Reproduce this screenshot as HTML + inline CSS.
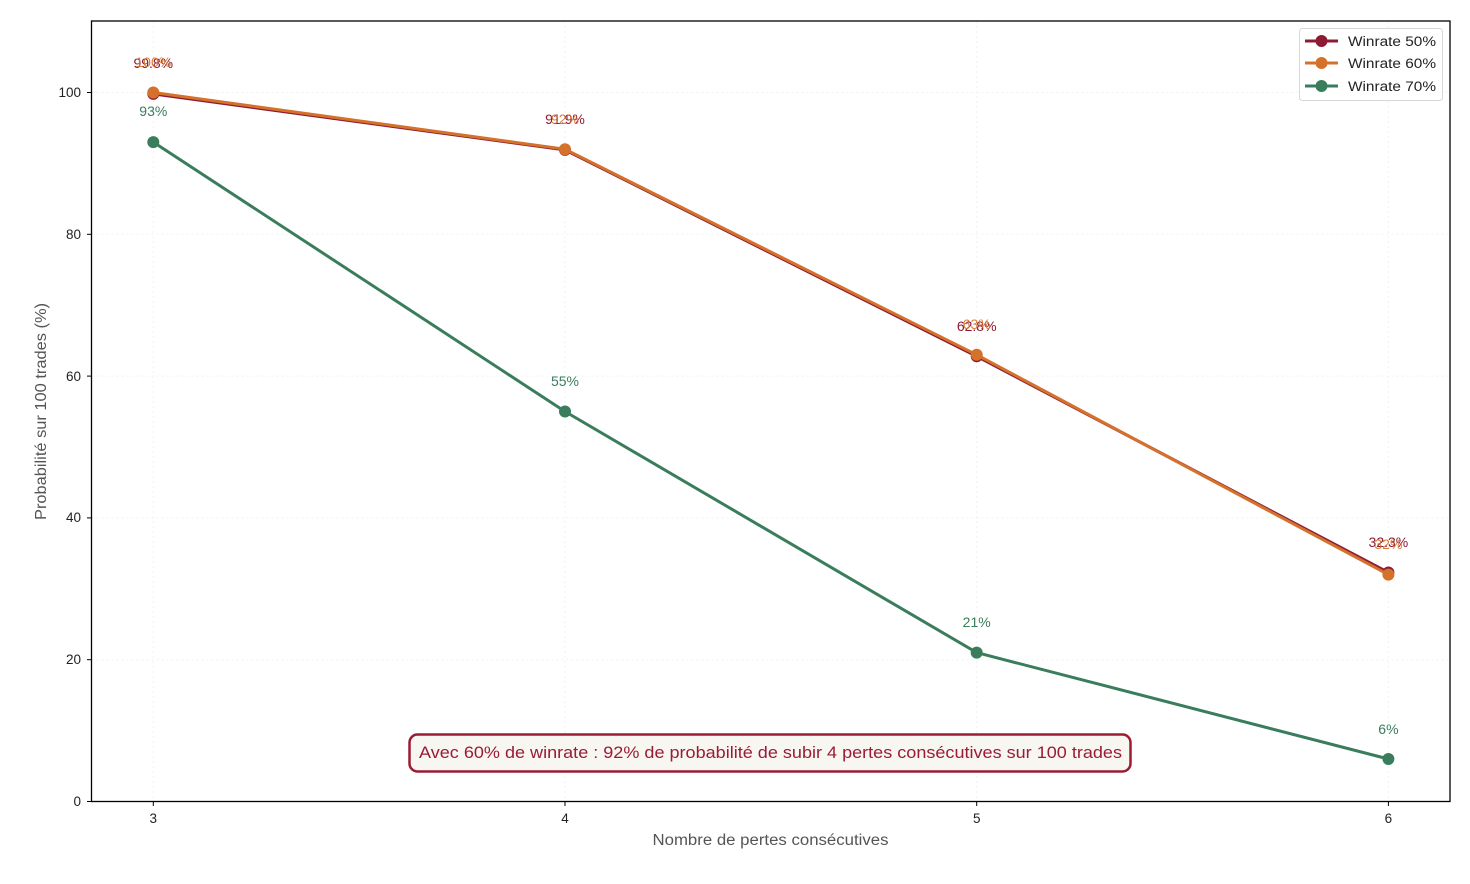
<!DOCTYPE html>
<html>
<head>
<meta charset="utf-8">
<style>
html,body{margin:0;padding:0;background:#fff;}
svg{display:block;font-family:"Liberation Sans",sans-serif;}
</style>
</head>
<body>
<svg width="1470" height="884" viewBox="0 0 1470 884" xmlns="http://www.w3.org/2000/svg">
<rect width="1470" height="884" fill="#fff"/>
<!-- grid -->
<g stroke="#f1f1f1" stroke-width="1" stroke-dasharray="2,3">
<line x1="153.3" y1="21" x2="153.3" y2="801.5"/>
<line x1="565" y1="21" x2="565" y2="801.5"/>
<line x1="976.7" y1="21" x2="976.7" y2="801.5"/>
<line x1="1388.4" y1="21" x2="1388.4" y2="801.5"/>
<line x1="91.5" y1="659.7" x2="1450" y2="659.7"/>
<line x1="91.5" y1="517.9" x2="1450" y2="517.9"/>
<line x1="91.5" y1="376.1" x2="1450" y2="376.1"/>
<line x1="91.5" y1="234.3" x2="1450" y2="234.3"/>
<line x1="91.5" y1="92.5" x2="1450" y2="92.5"/>
</g>
<!-- axes frame -->
<rect x="91.5" y="21" width="1358.5" height="780.5" fill="none" stroke="#000" stroke-width="1.3"/>
<!-- ticks -->
<g stroke="#000" stroke-width="1">
<line x1="153.3" y1="801.5" x2="153.3" y2="806"/>
<line x1="565" y1="801.5" x2="565" y2="806"/>
<line x1="976.7" y1="801.5" x2="976.7" y2="806"/>
<line x1="1388.4" y1="801.5" x2="1388.4" y2="806"/>
<line x1="87" y1="801.5" x2="91.5" y2="801.5"/>
<line x1="87" y1="659.7" x2="91.5" y2="659.7"/>
<line x1="87" y1="517.9" x2="91.5" y2="517.9"/>
<line x1="87" y1="376.1" x2="91.5" y2="376.1"/>
<line x1="87" y1="234.3" x2="91.5" y2="234.3"/>
<line x1="87" y1="92.5" x2="91.5" y2="92.5"/>
</g>
<g font-size="13.5" fill="#222" text-anchor="end">
<text x="81" y="806">0</text>
<text x="81" y="664">20</text>
<text x="81" y="522">40</text>
<text x="81" y="381">60</text>
<text x="81" y="239">80</text>
<text x="81" y="97">100</text>
</g>
<g font-size="13.5" fill="#222" text-anchor="middle">
<text x="153.3" y="823">3</text>
<text x="565" y="823">4</text>
<text x="976.7" y="823">5</text>
<text x="1388.4" y="823">6</text>
</g>
<text x="652.5" y="845" font-size="15.5" fill="#555" textLength="236" lengthAdjust="spacingAndGlyphs">Nombre de pertes consécutives</text>
<text transform="translate(46,520) rotate(-90)" font-size="15.5" fill="#555" textLength="217" lengthAdjust="spacingAndGlyphs">Probabilité sur 100 trades (%)</text>

<!-- series 50% -->
<polyline points="153.3,93.9 565,149.9 976.7,356.3 1388.4,572.5" fill="none" stroke="#8E1B34" stroke-width="3" stroke-linejoin="round"/>
<g fill="#8E1B34">
<circle cx="153.3" cy="93.9" r="6"/><circle cx="565" cy="149.9" r="6"/><circle cx="976.7" cy="356.3" r="6"/><circle cx="1388.4" cy="572.5" r="6"/>
</g>
<!-- series 60% -->
<polyline points="153.3,92.5 565,149.2 976.7,354.8 1388.4,574.6" fill="none" stroke="#D4712B" stroke-width="3" stroke-linejoin="round"/>
<g fill="#D4712B">
<circle cx="153.3" cy="92.5" r="6"/><circle cx="565" cy="149.2" r="6"/><circle cx="976.7" cy="354.8" r="6"/><circle cx="1388.4" cy="574.6" r="6"/>
</g>
<!-- series 70% -->
<polyline points="153.3,142.1 565,411.5 976.7,652.6 1388.4,759" fill="none" stroke="#3A7D5C" stroke-width="3" stroke-linejoin="round"/>
<g fill="#3A7D5C">
<circle cx="153.3" cy="142.1" r="6"/><circle cx="565" cy="411.5" r="6"/><circle cx="976.7" cy="652.6" r="6"/><circle cx="1388.4" cy="759" r="6"/>
</g>

<!-- data labels -->
<g font-size="14" text-anchor="middle">
<g fill="#8E1B34">
<text x="153.3" y="68">99.8%</text>
<text x="565" y="124">91.9%</text>
<text x="976.7" y="331">62.8%</text>
<text x="1388.4" y="547">32.3%</text>
</g>
<g fill="#D4712B" fill-opacity="0.9">
<text x="153.3" y="67">100%</text>
<text x="565" y="124">92%</text>
<text x="976.7" y="329">63%</text>
<text x="1388.4" y="549">32%</text>
</g>
<g fill="#3A7D5C">
<text x="153.3" y="116">93%</text>
<text x="565" y="386">55%</text>
<text x="976.7" y="627">21%</text>
<text x="1388.4" y="734">6%</text>
</g>
</g>

<!-- legend -->
<rect x="1299.5" y="28.5" width="143" height="72" rx="3" fill="#fff" stroke="#d8d8d8" stroke-width="1"/>
<g stroke-width="3">
<line x1="1305" y1="41" x2="1338" y2="41" stroke="#8E1B34"/>
<line x1="1305" y1="63" x2="1338" y2="63" stroke="#D4712B"/>
<line x1="1305" y1="86" x2="1338" y2="86" stroke="#3A7D5C"/>
</g>
<circle cx="1321.5" cy="41" r="6" fill="#8E1B34"/>
<circle cx="1321.5" cy="63" r="6" fill="#D4712B"/>
<circle cx="1321.5" cy="86" r="6" fill="#3A7D5C"/>
<g font-size="13.5" fill="#222">
<text x="1348" y="46" textLength="88" lengthAdjust="spacingAndGlyphs">Winrate 50%</text>
<text x="1348" y="68" textLength="88" lengthAdjust="spacingAndGlyphs">Winrate 60%</text>
<text x="1348" y="91" textLength="88" lengthAdjust="spacingAndGlyphs">Winrate 70%</text>
</g>

<!-- annotation -->
<rect x="409.5" y="734.5" width="721" height="37" rx="8" fill="#F8F6F1" stroke="#9B1B35" stroke-width="2.5"/>
<text x="419" y="758" font-size="17" fill="#9B1B35" textLength="703" lengthAdjust="spacingAndGlyphs">Avec 60% de winrate : 92% de probabilité de subir 4 pertes consécutives sur 100 trades</text>
</svg>
</body>
</html>
